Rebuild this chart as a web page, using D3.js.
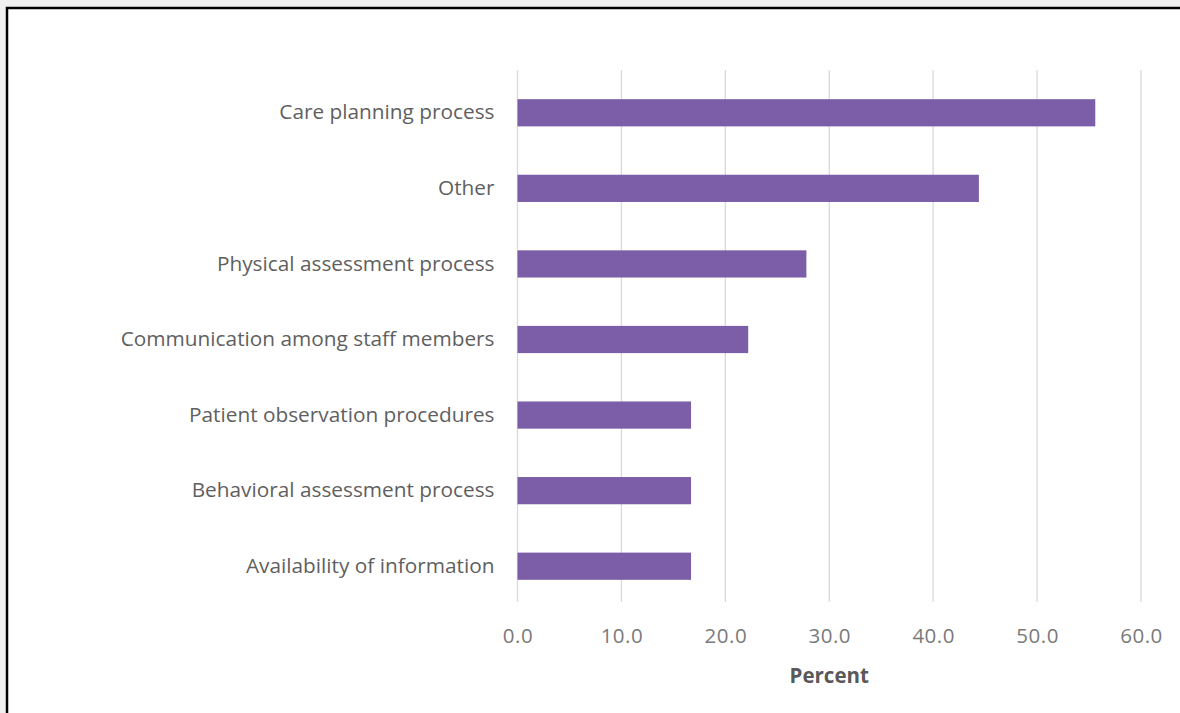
<!DOCTYPE html>
<html>
<head>
<meta charset="utf-8">
<script src="https://cdn.jsdelivr.net/npm/d3@7"></script>
<style>
  html, body { margin: 0; padding: 0; background: #f0f0f0; }
  svg { display: block; }
</style>
</head>
<body>
<svg id="chart" width="1180" height="713"></svg>
<script>
// Share of respondents (%) naming each area
const categories = [
  "Care planning process",
  "Other",
  "Physical assessment process",
  "Communication among staff members",
  "Patient observation procedures",
  "Behavioral assessment process",
  "Availability of information"
];
const percents = [55.6, 44.4, 27.8, 22.2, 16.7, 16.7, 16.7];
const tickValues = [0, 10, 20, 30, 40, 50, 60];
const axisTitle = "Percent";

const svg = d3.select("#chart");
const W = 1180, H = 713;

// white panel with black frame
svg.append("rect")
  .attr("x", 7).attr("y", 8)
  .attr("width", W + 20).attr("height", H + 20)
  .attr("fill", "#ffffff")
  .attr("stroke", "#000000")
  .attr("stroke-width", 2.5);

const plot = { left: 517.5, right: 1141, top: 75, bottom: 604 };

const x = d3.scaleLinear().domain([0, 60]).range([plot.left, plot.right]);
const y = d3.scaleBand().domain(categories).range([plot.top, plot.bottom]).paddingInner(0.64).paddingOuter(0.32);

// vertical gridlines
svg.append("g")
  .selectAll("line")
  .data(tickValues)
  .join("line")
  .attr("x1", d => x(d)).attr("x2", d => x(d))
  .attr("y1", 70).attr("y2", 602)
  .attr("stroke", "#d9d9d9")
  .attr("stroke-width", 1.3);

// bars
svg.append("g")
  .selectAll("rect")
  .data(categories)
  .join("rect")
  .attr("x", x(0))
  .attr("y", d => y(d))
  .attr("width", (d, i) => x(percents[i]) - x(0))
  .attr("height", y.bandwidth())
  .attr("fill", "#7b5ea7");

const font = "'Open Sans', 'Liberation Sans', sans-serif";

// category labels
const yAxis = d3.axisLeft(y).tickSize(0).tickPadding(0);
const gy = svg.append("g").attr("transform", `translate(${plot.left - 23},0)`).call(yAxis);
gy.select(".domain").remove();
gy.selectAll("text")
  .attr("fill", "#5f5f5f")
  .style("font-family", font)
  .style("font-size", "20.8px");

// value axis labels
const xAxis = d3.axisBottom(x).tickValues(tickValues).tickFormat(d3.format(".1f")).tickSize(0).tickPadding(0);
const gx = svg.append("g").attr("transform", `translate(0,${628})`).call(xAxis);
gx.select(".domain").remove();
gx.selectAll("text")
  .attr("fill", "#7a7a7a")
  .style("font-family", font)
  .style("font-size", "20.5px")
  .style("letter-spacing", "0.5px");

svg.append("text")
  .attr("x", (plot.left + plot.right) / 2)
  .attr("y", 683)
  .attr("text-anchor", "middle")
  .attr("fill", "#595959")
  .style("font-family", font)
  .style("font-size", "20.5px")
  .style("font-weight", "bold")
  .text(axisTitle);
</script>
</body>
</html>
